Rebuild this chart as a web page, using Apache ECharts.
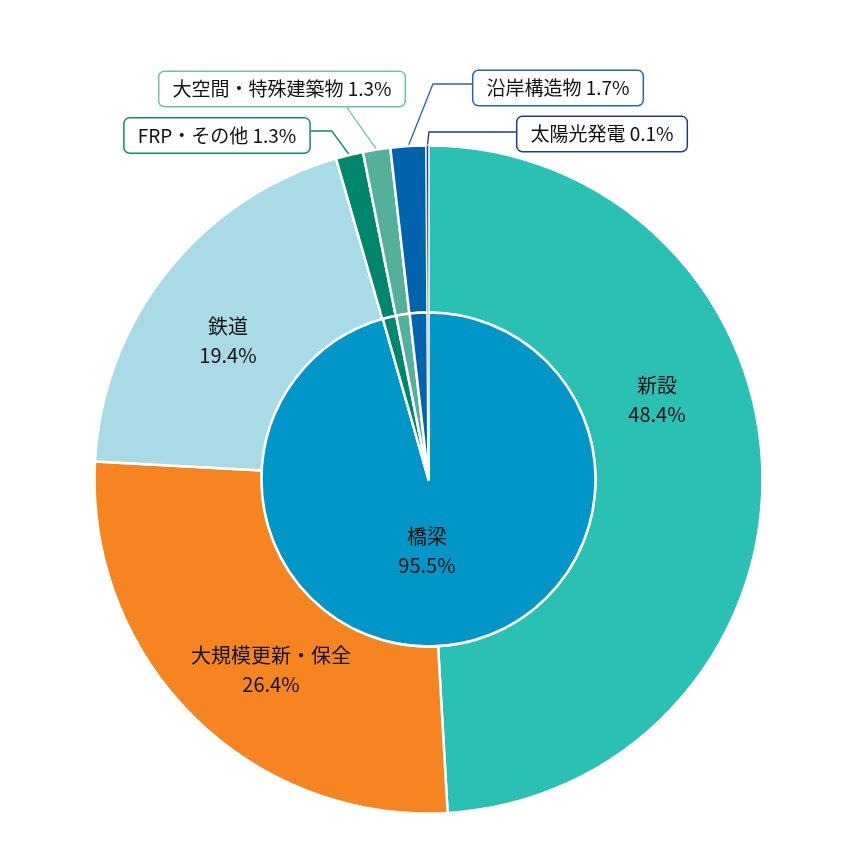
<!DOCTYPE html>
<html>
<head>
<meta charset="utf-8">
<script src="https://cdn.jsdelivr.net/npm/echarts@6/dist/echarts.min.js"></script>
<style>
html,body{margin:0;padding:0;background:#fff;}
#chart{width:860px;height:860px;}
</style>
</head>
<body>
<div id="chart"></div>
<script>
// Outer ring categories and values (%)
const ringNames = ['新設', '大規模更新・保全', '鉄道', 'FRP・その他', '大空間・特殊建築物', '沿岸構造物', '太陽光発電'];
const ringValues = [48.4, 26.4, 19.4, 1.3, 1.3, 1.7, 0.1];
// Inner pie categories and values (%)
const coreNames = ['橋梁', 'FRP・その他', '大空間・特殊建築物', '沿岸構造物', '太陽光発電'];
const coreValues = [95.5, 1.3, 1.3, 1.7, 0.1];

const colors = {
  '新設': '#2bc0b4',
  '大規模更新・保全': '#f58421',
  '鉄道': '#a8dbe5',
  'FRP・その他': '#00876b',
  '大空間・特殊建築物': '#55b09b',
  '沿岸構造物': '#0063ac',
  '太陽光発電': '#1d3c8f',
  '橋梁': '#0096c7'
};
const boxBorder = {
  'FRP・その他': '#13896f',
  '大空間・特殊建築物': '#6fc0ab',
  '沿岸構造物': '#2466ae',
  '太陽光発電': '#1d3c8f'
};
const insideNames = ['新設', '大規模更新・保全', '鉄道', '橋梁'];

// label placement (layout only)
const labelSpots = {
  '新設': {x: 657, y: 400},
  '大規模更新・保全': {x: 271, y: 670},
  '鉄道': {x: 228, y: 341},
  '橋梁': {x: 427, y: 551},
  'FRP・その他': {x: 217, y: 135.5, side: 'right', len: 21, ay: -4.5},
  '大空間・特殊建築物': {x: 282, y: 89, side: 'bottom', ax: 65},
  '沿岸構造物': {x: 558, y: 88, side: 'left', len: 39, ay: -4},
  '太陽光発電': {x: 602, y: 134, side: 'left', len: 87, ay: -2}
};

const FONT = "'Noto Sans CJK JP', 'Noto Sans', sans-serif";

function layoutFor(names) {
  return function (p) {
    const s = labelSpots[names[p.dataIndex]];
    if (!s) return {};
    const out = {x: s.x, y: s.y, align: 'center', verticalAlign: 'middle'};
    if (s.side && p.labelLinePoints) {
      const w = p.labelRect.width, h = p.labelRect.height;
      const start = p.labelLinePoints[0];
      let anchor, elbow;
      if (s.side === 'right') {
        anchor = [s.x + w / 2, s.y + (s.ay || 0)];
        elbow = [anchor[0] + s.len, anchor[1]];
      } else if (s.side === 'left') {
        anchor = [s.x - w / 2, s.y + (s.ay || 0)];
        elbow = [anchor[0] - s.len, anchor[1]];
      } else {
        anchor = [s.x + (s.ax || 0), s.y + h / 2];
        elbow = anchor;
      }
      out.labelLinePoints = [start, elbow, anchor];
    }
    return out;
  };
}

function makeItem(name, value, isRing) {
  const inside = insideNames.indexOf(name) >= 0;
  const item = {
    name: name,
    value: value,
    itemStyle: {color: colors[name], borderColor: '#fff', borderWidth: name === '太陽光発電' ? 0.6 : 2.5}
  };
  if (inside) {
    item.label = {
      show: true, position: 'inside', formatter: '{b}\n{c}%',
      color: '#111', fontSize: 20, lineHeight: 29, fontFamily: FONT
    };
    item.labelLine = {show: false};
  } else if (isRing) {
    item.label = {
      show: true, position: 'outside', formatter: '{b} {c}%',
      color: '#111', fontSize: 19, lineHeight: 22, fontFamily: FONT,
      backgroundColor: '#fff', borderColor: boxBorder[name], borderWidth: 1.5,
      borderRadius: 5, padding: [6, 13]
    };
    item.labelLine = {show: true, lineStyle: {color: boxBorder[name], width: 1.3}};
  } else {
    item.label = {show: false};
    item.labelLine = {show: false};
  }
  return item;
}

const chart = echarts.init(document.getElementById('chart'), null, {renderer: 'canvas'});
chart.setOption({
  animation: false,
  backgroundColor: '#fff',
  series: [
    {
      type: 'pie',
      name: 'ring',
      center: [428.5, 479.5],
      radius: [167, 334],
      startAngle: 90,
      clockwise: true,
      avoidLabelOverlap: false,
      emphasis: {disabled: true},
      data: ringNames.map((n, i) => makeItem(n, ringValues[i], true)),
      labelLayout: layoutFor(ringNames)
    },
    {
      type: 'pie',
      name: 'core',
      center: [428.5, 479.5],
      radius: [0, 167],
      startAngle: 90,
      clockwise: true,
      avoidLabelOverlap: false,
      emphasis: {disabled: true},
      data: coreNames.map((n, i) => makeItem(n, coreValues[i], false)),
      labelLayout: layoutFor(coreNames)
    }
  ]
});
</script>
</body>
</html>
